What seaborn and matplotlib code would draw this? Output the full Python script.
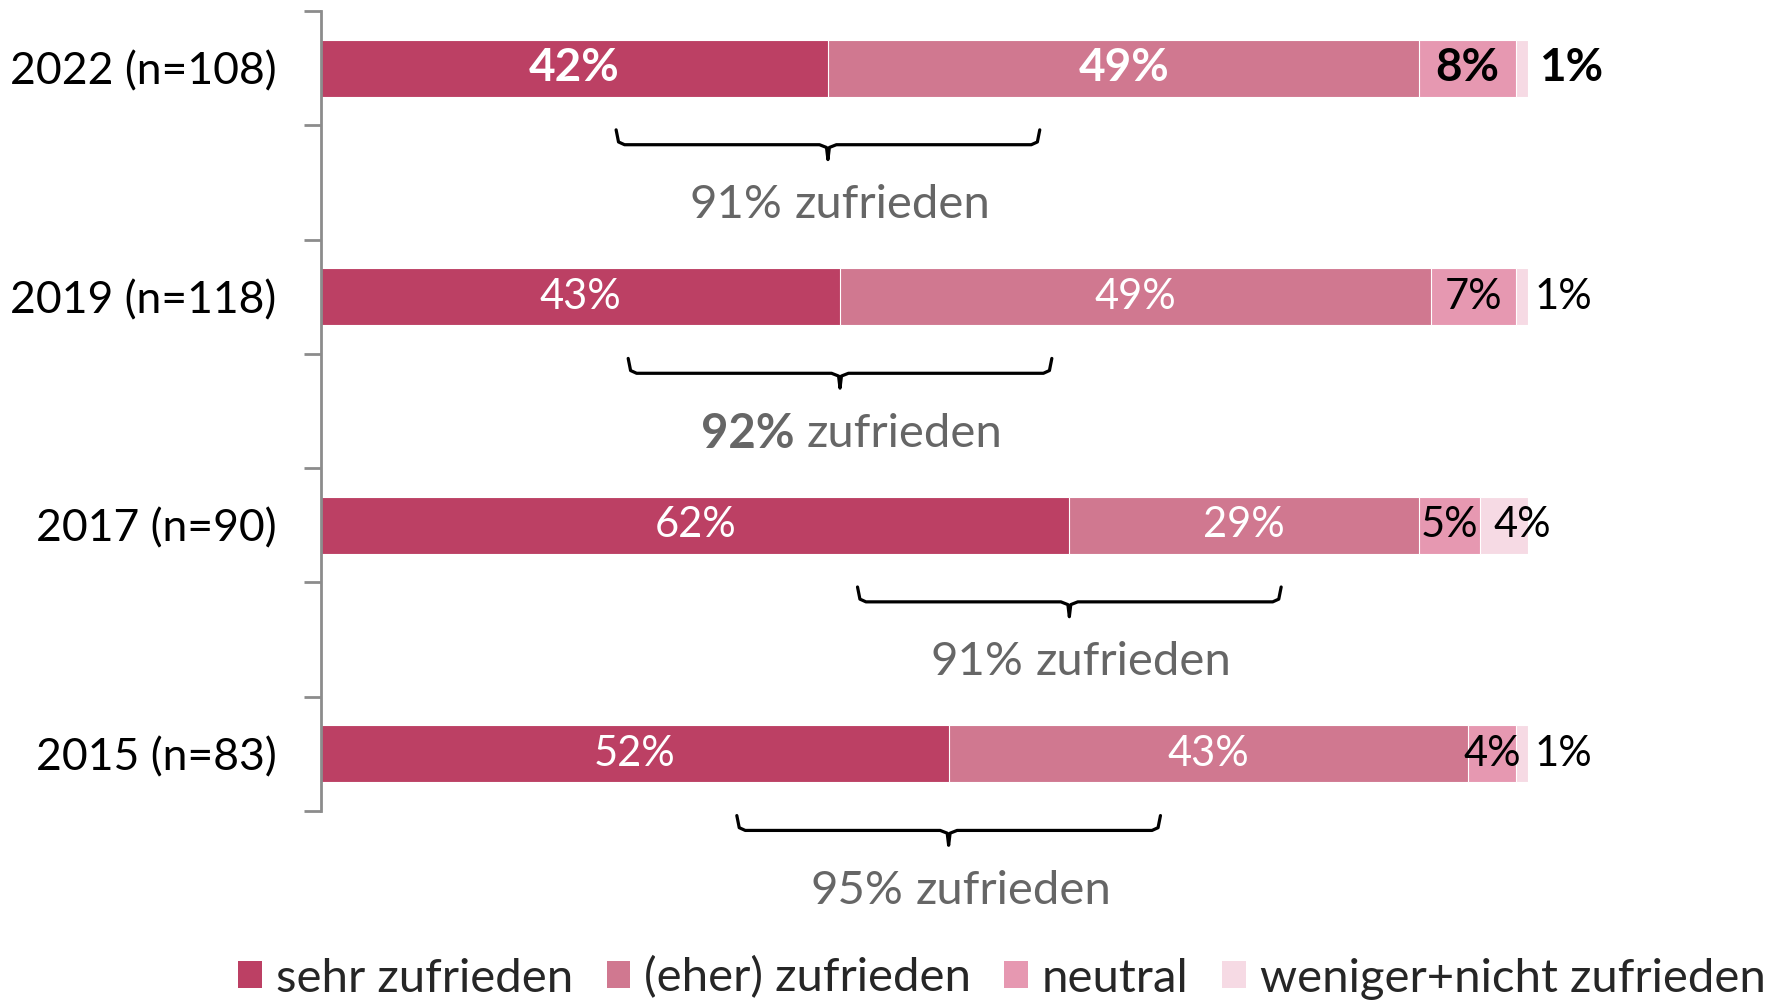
import numpy as np
import pandas as pd
import matplotlib
matplotlib.use("Agg")
import matplotlib.pyplot as plt
import matplotlib.transforms as mtrans
from matplotlib.patches import Patch
import seaborn as sns

# ---------------- data ----------------
years = ["2022 (n=108)", "2019 (n=118)", "2017 (n=90)", "2015 (n=83)"]
sehr = [42, 43, 62, 52]
eher = [49, 49, 29, 43]
neutral = [8, 7, 5, 4]
weniger = [1, 1, 4, 1]
zufrieden_total = [91, 92, 91, 95]
series_names = ["sehr zufrieden", "(eher) zufrieden", "neutral", "weniger+nicht zufrieden"]
series_colors = ["#BC4064", "#D07890", "#E698B1", "#F6DAE4"]
label_colors = ["white", "white", "black", "black"]

sns.set_theme(style="white")
plt.rcParams["font.family"] = ["Lato", "DejaVu Sans"]

df = pd.DataFrame({"year": years, "sehr": sehr, "eher": eher,
                   "neutral": neutral, "weniger": weniger})
cols = ["sehr", "eher", "neutral", "weniger"]
cum = df[cols].cumsum(axis=1)
for c in cols:
    df["cum_" + c] = cum[c]

W, H = 1791, 1001
fig = plt.figure(figsize=(W / 100, H / 100), dpi=100)
ax = fig.add_axes([321 / W, 1 - 811 / H, (1528 - 321) / W, 800 / H])

# stacked bars: draw cumulative totals, largest first
for c, color in reversed(list(zip(cols, series_colors))):
    sns.barplot(data=df, x="cum_" + c, y="year", orient="h", color=color,
                saturation=1, width=0.25, errorbar=None, ax=ax,
                edgecolor="white", linewidth=0.8)

ax.set_xlim(0, 100)
ax.set_ylim(3.25, -0.25)
ax.set_xlabel("")
ax.set_ylabel("")
ax.set_xticks([])

for s in ["top", "right", "bottom"]:
    ax.spines[s].set_visible(False)
ax.spines["left"].set_color("#8c8c8c")
ax.spines["left"].set_linewidth(2)

ax.set_yticks(range(len(years)))
ax.set_yticklabels(years)
ax.tick_params(axis="y", which="major", length=0, pad=32, labelsize=32,
               labelcolor="black")
ax.set_yticks(np.arange(-0.25, 3.3, 0.5), minor=True)
ax.tick_params(axis="y", which="minor", left=True, length=12, width=2,
               color="#8c8c8c", direction="out")

# segment labels
for i in range(len(years)):
    bold = (i == 0)
    weight = "bold" if bold else "normal"
    fs = 33 if bold else 30
    start = 0
    for j, c in enumerate(cols):
        v = df.loc[i, c]
        if j == 3:
            x = start + 1.1 if v >= 3 else 100.5 + (0.4 if bold else 0)
            ax.text(x, i, f"{v}%", ha="left", va="center", color="black",
                    fontsize=fs, fontweight=weight)
        else:
            ax.text(start + v / 2, i, f"{v}%", ha="center", va="center",
                    color=label_colors[j], fontsize=fs, fontweight=weight)
        start += v

# braces + "xx% zufrieden" text
renderer = fig.canvas.get_renderer()


def rich_text(x, y, parts, fontsize, color):
    texts, widths = [], []
    for s, w in parts:
        t = ax.text(x, y, s, fontsize=fontsize, fontweight=w, color=color,
                    ha="left", va="center")
        texts.append(t)
        widths.append(t.get_window_extent(renderer).width)
    gap = fontsize * 100 / 72 * 0.26
    total = sum(widths) + gap * (len(parts) - 1)
    off = -total / 2
    for t, wd in zip(texts, widths):
        t.set_transform(ax.transData + mtrans.ScaledTranslation(off / 100, 0, fig.dpi_scale_trans))
        off += wd + gap


h = 17.55
y0, y1, y2 = 0.27, 0.335, 0.40
for i in range(len(years)):
    c = sehr[i]
    xs = [c - h, c - h + 0.2, c - h + 0.7, c - 0.7, c - 0.12, c,
          c + 0.12, c + 0.7, c + h - 0.7, c + h - 0.2, c + h]
    ys = [i + y0, i + y1 - 0.012, i + y1, i + y1, i + y1 + 0.012, i + y2,
          i + y1 + 0.012, i + y1, i + y1, i + y1 - 0.012, i + y0]
    ax.plot(xs, ys, color="black", lw=2.3, solid_joinstyle="round",
            solid_capstyle="round", clip_on=False)
    if i == 1:
        parts = [(f"{zufrieden_total[i]}%", "bold"), ("zufrieden", "normal")]
    else:
        parts = [(f"{zufrieden_total[i]}%", "normal"), ("zufrieden", "normal")]
    rich_text(c + 1.0, i + 0.6, parts, 34, "#666666")

# legend
handles = [Patch(facecolor=col, edgecolor="none") for col in series_colors]
fig.legend(handles, series_names, loc="center",
           bbox_to_anchor=(1002 / W, 1 - 978 / H), ncol=4, frameon=False,
           fontsize=34, handlelength=0.5, handleheight=0.5,
           handletextpad=0.3, columnspacing=0.7, borderaxespad=0)

fig.savefig("out.png", dpi=100)
